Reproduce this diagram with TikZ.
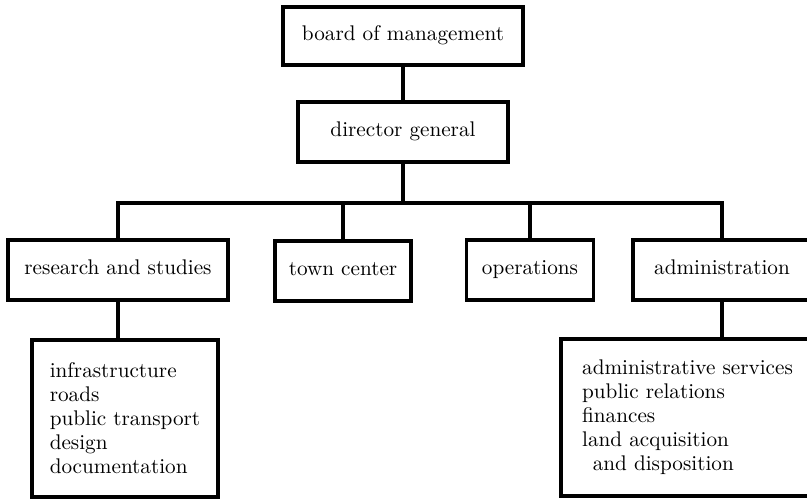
\documentclass[tikz,border=0pt]{standalone}
\usepackage{fontspec}

\tikzset{every picture/.style={line width=1.7pt}}
\tikzset{unitbox/.style={draw, rectangle, inner sep=0pt, minimum height=30pt, font=\fontsize{10.6}{12}\selectfont},
         onerow/.style={text height=1.6ex, text depth=0.45ex}}

\begin{document}
\begin{tikzpicture}[x=0.5pt,y=0.5pt,yscale=-1,xscale=1]
        \useasboundingbox (0,0) rectangle (807,499);
        \clip (0,0) rectangle (807,499);

        % Top boxes
        \node [unitbox, onerow, minimum width=120pt, minimum height=29pt] (board) at (403,36) {board of management};
        \node [unitbox, onerow, minimum width=105pt] (director) at (403,132) {director general};

        % Departments
        \node [unitbox, onerow, minimum width=110pt] (research) at (118,270) {research and studies};
        \node [unitbox, onerow, minimum width=68pt] (town) at (343,271) {town center};
        \node [unitbox, onerow, minimum width=63.5pt] (operations) at (530,270) {operations};
        \node [unitbox, onerow, minimum width=89pt] (admin) at (722,270) {administration};

        % Sub lists
        \node [unitbox, align=left, minimum width=93pt, minimum height=78.5pt] (infra) at (125,418.5) {infrastructure\\roads\\public transport\\design\\documentation};
        \node [unitbox, align=left, minimum width=126.5pt, minimum height=78.5pt] (services) at (687.5,417.5) {administrative services\\public relations\\finances\\land acquisition\\\hspace*{0.5em}and disposition};

        % Connectors
        \coordinate (bar) at (403,203);
        \draw (board) -- (director);
        \draw (director) -- (bar);
        \draw (research.north) |- (bar) -| (admin.north);
        \draw (town.north |- bar) -- (town.north);
        \draw (operations.north |- bar) -- (operations.north);
        \draw (research.south) -- (research.south |- infra.north);
        \draw (admin.south) -- (admin.south |- services.north);

\end{tikzpicture}
\end{document}
